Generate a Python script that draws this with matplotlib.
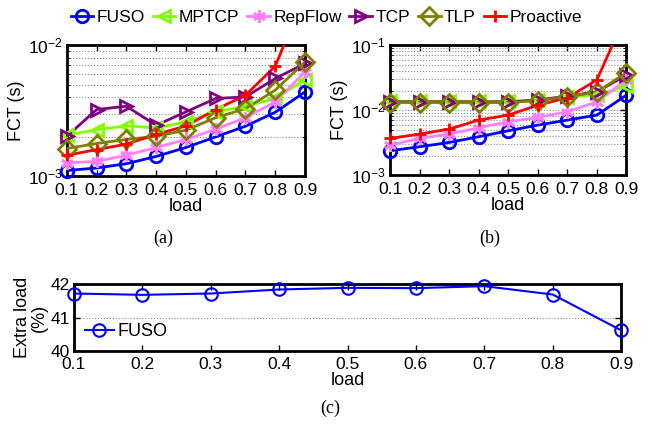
import numpy as np
import matplotlib
matplotlib.use('Agg')
import matplotlib.pyplot as plt
from matplotlib.ticker import LogLocator, NullFormatter

plt.rcParams['font.family'] = ['Liberation Sans', 'DejaVu Sans']
plt.rcParams['mathtext.fontset'] = 'custom'
plt.rcParams['mathtext.rm'] = 'Liberation Sans'
plt.rcParams['mathtext.it'] = 'Liberation Sans'

load = [0.1, 0.2, 0.3, 0.4, 0.5, 0.6, 0.7, 0.8, 0.9]
schemes = ['FUSO', 'MPTCP', 'RepFlow', 'TCP', 'TLP', 'Proactive']

# (a) FCT, small flows
fct_a = {
    'FUSO':      [1.10e-3, 1.15e-3, 1.24e-3, 1.41e-3, 1.65e-3, 1.99e-3, 2.40e-3, 3.07e-3, 4.39e-3],
    'MPTCP':     [2.05e-3, 2.26e-3, 2.41e-3, 2.33e-3, 2.59e-3, 3.09e-3, 3.41e-3, 3.91e-3, 5.46e-3],
    'RepFlow':   [1.26e-3, 1.29e-3, 1.44e-3, 1.65e-3, 1.90e-3, 2.28e-3, 2.79e-3, 3.68e-3, 6.25e-3],
    'TCP':       [2.01e-3, 3.22e-3, 3.41e-3, 2.44e-3, 3.09e-3, 3.91e-3, 4.02e-3, 5.56e-3, 7.24e-3],
    'TLP':       [1.62e-3, 1.77e-3, 1.90e-3, 2.01e-3, 2.24e-3, 2.79e-3, 3.27e-3, 4.53e-3, 7.45e-3],
    'Proactive': [1.44e-3, 1.59e-3, 1.75e-3, 2.08e-3, 2.41e-3, 3.22e-3, 4.14e-3, 6.90e-3, 2.5e-2],
}

# (b) FCT, tail
fct_b = {
    'FUSO':      [2.37e-3, 2.73e-3, 3.18e-3, 3.89e-3, 4.81e-3, 5.88e-3, 7.02e-3, 8.37e-3, 1.70e-2],
    'MPTCP':     [1.37e-2, 1.37e-2, 1.37e-2, 1.37e-2, 1.37e-2, 1.43e-2, 1.62e-2, 1.70e-2, 2.34e-2],
    'RepFlow':   [2.90e-3, 3.67e-3, 4.28e-3, 5.35e-3, 6.62e-3, 7.71e-3, 9.42e-3, 1.34e-2, 2.90e-2],
    'TCP':       [1.34e-2, 1.34e-2, 1.34e-2, 1.34e-2, 1.34e-2, 1.43e-2, 1.64e-2, 1.91e-2, 3.45e-2],
    'TLP':       [1.31e-2, 1.31e-2, 1.31e-2, 1.31e-2, 1.31e-2, 1.40e-2, 1.60e-2, 1.91e-2, 3.75e-2],
    'Proactive': [3.67e-3, 4.28e-3, 5.10e-3, 7.02e-3, 8.37e-3, 1.19e-2, 1.55e-2, 2.90e-2, 3.0e-1],
}

# (c) extra load of FUSO
extra_load = [41.72, 41.68, 41.72, 41.84, 41.89, 41.88, 41.94, 41.69, 40.62]

styles = {
    'FUSO':      dict(color='#0000ff', marker='o'),
    'MPTCP':     dict(color='#80ff00', marker='<'),
    'RepFlow':   dict(color='#ff80ff', marker=(6, 2, 0)),
    'TCP':       dict(color='#800080', marker='>'),
    'TLP':       dict(color='#808000', marker='D'),
    'Proactive': dict(color='#ff0000', marker='+'),
}

fig = plt.figure(figsize=(6.49, 4.26), dpi=100)
ax_a = fig.add_axes([0.103, 0.587, 0.367, 0.307])
ax_b = fig.add_axes([0.601, 0.589, 0.364, 0.305])
ax_c = fig.add_axes([0.114, 0.176, 0.843, 0.157])


def style_axes(ax):
    for s in ax.spines.values():
        s.set_linewidth(2)
    ax.tick_params(direction='in', top=True, right=True, labelsize=12.5, width=1, length=4, pad=3)
    ax.tick_params(which='minor', direction='in', top=True, right=True, length=2)


def draw_fct(ax, data, ylim):
    for name in schemes:
        st = styles[name]
        y = np.array(data[name])
        # line clipped to the axes, markers left unclipped like the original
        ax.plot(load, y, color=st['color'], lw=2, zorder=3)
        inside = (y >= ylim[0]) & (y <= ylim[1])
        ax.plot(np.array(load)[inside], y[inside], ls='none', marker=st['marker'],
                ms=9, mfc='none', mew=2, color=st['color'], clip_on=False, zorder=4)
    ax.set_yscale('log')
    ax.set_ylim(*ylim)
    ax.set_xlim(0.1, 0.9)
    ax.set_xticks(load)
    ax.set_xticklabels([f'{v:.1f}' for v in load])
    ax.yaxis.set_major_locator(LogLocator(base=10))
    ax.yaxis.set_minor_locator(LogLocator(base=10, subs=np.arange(2, 10)))
    ax.yaxis.set_minor_formatter(NullFormatter())
    ax.grid(axis='y', which='both', ls=':', color='#888888', lw=0.8)
    ax.set_xlabel('load', fontsize=13, labelpad=0)
    ax.set_ylabel('FCT (s)', fontsize=13, labelpad=2)
    style_axes(ax)
    ax.tick_params(axis='x', pad=5)


draw_fct(ax_a, fct_a, (1e-3, 1e-2))
draw_fct(ax_b, fct_b, (1e-3, 1e-1))

proxies = [plt.Line2D([], [], color=styles[n]['color'], lw=2, marker=styles[n]['marker'],
                      ms=9, mfc='none', mew=2) for n in schemes]
fig.legend(proxies, schemes, loc='center', bbox_to_anchor=(0.503, 0.958), ncol=6,
           frameon=False, fontsize=12.5, handlelength=1.3, handletextpad=0.2,
           columnspacing=0.45)

# (c)
ax_c.plot(load, extra_load, color='#0000ff', lw=1.5, marker='o', ms=9, mfc='none',
          mew=1.5, clip_on=False, label='FUSO', zorder=3)
ax_c.set_xlim(0.1, 0.9)
ax_c.set_ylim(40, 42)
ax_c.set_xticks(load)
ax_c.set_xticklabels([f'{v:.1f}' for v in load])
ax_c.set_yticks([40, 41, 42])
ax_c.grid(axis='y', ls=':', color='#888888', lw=0.8)
ax_c.set_ylabel('Extra load\n(%)', fontsize=13, labelpad=2, linespacing=1.0)
style_axes(ax_c)
ax_c.tick_params(axis='x', pad=4)
ax_c.set_xlabel('load', fontsize=13, labelpad=0)
ax_c.legend(loc='lower left', frameon=False, fontsize=13, handlelength=1.6,
            handletextpad=0.2, borderaxespad=0.2)

# captions
fig.text(0.251, 0.441, '(a)', ha='center', va='center', fontsize=13, family='Liberation Serif')
fig.text(0.755, 0.441, '(b)', ha='center', va='center', fontsize=13, family='Liberation Serif')
fig.text(0.509, 0.042, '(c)', ha='center', va='center', fontsize=13, family='Liberation Serif')

fig.savefig('out.png', dpi=100)
